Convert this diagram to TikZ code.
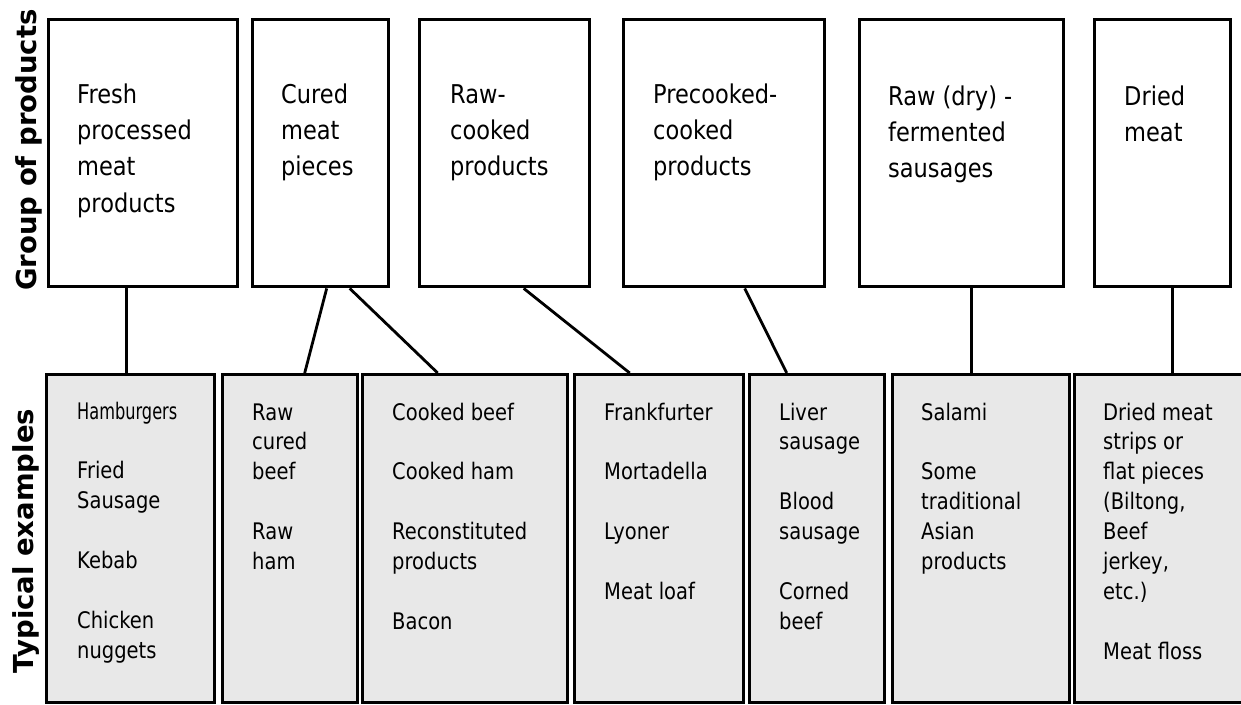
\documentclass[tikz,border=0pt]{standalone}
\usepackage{fontspec}
\setmainfont{DejaVu Sans}
\usepackage{graphicx}
\definecolor{boxgray}{HTML}{E8E8E8}
\newcommand\toptext[1]{\scalebox{1}[1.15]{\fontsize{22.5}{31.7}\selectfont\begin{tabular}[t]{@{}l@{}}#1\end{tabular}}}
\newcommand\bottext[1]{\scalebox{1}[1.17]{\fontsize{19.5}{25.6}\selectfont\begin{tabular}[t]{@{}l@{}}#1\end{tabular}}}
\tikzset{
  groupbox/.style={draw=black, line width=3.4pt, fill=white, rectangle, inner sep=0pt, anchor=north west},
  exbox/.style={draw=black, line width=3.4pt, fill=boxgray, rectangle, inner sep=0pt, anchor=north west},
  txt/.style={anchor=base west, inner sep=0pt, align=left},
  link/.style={draw=black, line width=2.8pt},
  side/.style={rotate=90, inner sep=0pt, font=\fontsize{27.5}{30}\selectfont\bfseries}
}
\begin{document}
\begin{tikzpicture}[x=1pt, y=-1pt]
\useasboundingbox (0,0) rectangle (1241,704);
\clip (0,0) rectangle (1241,704);
\fill[white] (0,0) rectangle (1241,704);

% group boxes
\node[groupbox, minimum width=189pt, minimum height=267pt] (g1) at (47,18) {};
\node[groupbox, minimum width=136pt, minimum height=267pt] (g2) at (251,18) {};
\node[groupbox, minimum width=170pt, minimum height=267pt] (g3) at (418,18) {};
\node[groupbox, minimum width=201pt, minimum height=267pt] (g4) at (622,18) {};
\node[groupbox, minimum width=204pt, minimum height=267pt] (g5) at (858,18) {};
\node[groupbox, minimum width=136pt, minimum height=267pt] (g6) at (1093,18) {};

% example boxes
\node[exbox, minimum width=168pt, minimum height=328pt] (e1) at (45,373) {};
\node[exbox, minimum width=135pt, minimum height=328pt] (e2) at (221,373) {};
\node[exbox, minimum width=205pt, minimum height=328pt] (e3) at (361,373) {};
\node[exbox, minimum width=169pt, minimum height=328pt] (e4) at (573,373) {};
\node[exbox, minimum width=135pt, minimum height=328pt] (e5) at (748,373) {};
\node[exbox, minimum width=177pt, minimum height=328pt] (e6) at (891,373) {};
\node[exbox, minimum width=173pt, minimum height=328pt] (e7) at (1073,373) {};

% connectors
\draw[link] ([xshift=-16.5pt]g1.south) -- ([xshift=-4pt]e1.north);
\draw[link] ([xshift=6pt]g2.south) -- ([xshift=14.5pt]e2.north);
\draw[link] ([xshift=29pt]g2.south) -- ([xshift=-27.5pt]e3.north);
\draw[link] ([xshift=19pt]g3.south) -- ([xshift=-29.5pt]e4.north);
\draw[link] ([xshift=20.5pt]g4.south) -- ([xshift=-30.5pt]e5.north);
\draw[link] ([xshift=10pt]g5.south) -- ([xshift=-9.5pt]e6.north);
\draw[link] ([xshift=10pt]g6.south) -- ([xshift=11.5pt]e7.north);

% group texts
\node[txt] (tg1) at (77,103) {\toptext{Fresh\\processed\\meat\\products}};
\node[txt] (tg2) at (281,103) {\toptext{Cured\\meat\\pieces}};
\node[txt] (tg3) at (450,103) {\toptext{Raw-\\cooked\\products}};
\node[txt] (tg4) at (653,103) {\toptext{Precooked-\\cooked\\products}};
\node[txt] (tg5) at (888,105) {\toptext{Raw (dry) -\\fermented\\sausages}};
\node[txt] (tg6) at (1124,105) {\toptext{Dried\\meat}};

% example texts
\node[txt] (te1) at (77,419) {\bottext{\scalebox{0.83}[1]{Hamburgers}\\ \\Fried\\Sausage\\ \\Kebab\\ \\Chicken\\nuggets}};
\node[txt] (te2) at (252,420) {\bottext{Raw\\cured\\beef\\ \\Raw\\ham}};
\node[txt] (te3) at (392,420) {\bottext{Cooked beef\\ \\Cooked ham\\ \\Reconstituted\\products\\ \\Bacon}};
\node[txt] (te4) at (604,420) {\bottext{Frankfurter\\ \\Mortadella\\ \\Lyoner\\ \\Meat loaf}};
\node[txt] (te5) at (779,420) {\bottext{Liver\\sausage\\ \\Blood\\sausage\\ \\Corned\\beef}};
\node[txt] (te6) at (921,420) {\bottext{Salami\\ \\Some\\traditional\\Asian\\products}};
\node[txt] (te7) at (1103,420) {\bottext{Dried meat\\strips or\\flat pieces\\(Biltong,\\Beef\\jerkey,\\etc.)\\ \\Meat floss}};

% side labels
\node[side] (s1) at (28.5,150) {Group of products};
\node[side] (s2) at (26,541) {Typical examples};
\end{tikzpicture}
\end{document}
